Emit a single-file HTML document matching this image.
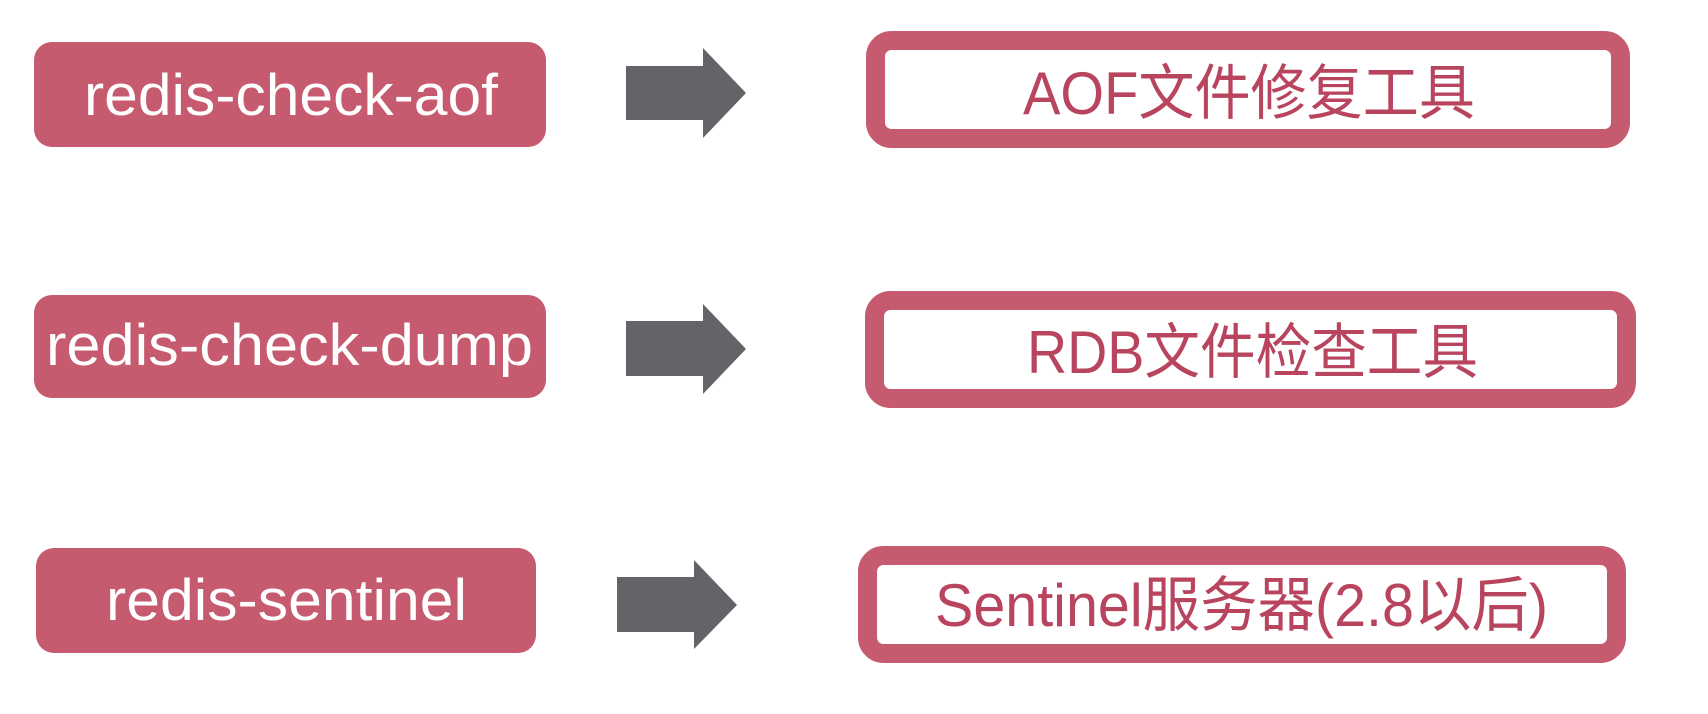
<!DOCTYPE html>
<html><head><meta charset="utf-8"><style>html,body{margin:0;padding:0;background:#fff}svg{display:block}</style></head>
<body>
<svg width="1708" height="714" viewBox="0 0 1708 714" xmlns="http://www.w3.org/2000/svg">
<g fill="#c65a6e">
<rect x="34" y="42" width="512" height="105" rx="18"/>
<rect x="34" y="295" width="512" height="103" rx="18"/>
<rect x="36" y="548" width="500" height="105" rx="18"/>
</g>
<g fill="#fff" stroke="#c65a6e" stroke-width="19">
<rect x="875.5" y="40.5" width="745" height="98" rx="16"/>
<rect x="874.5" y="300.5" width="752" height="98" rx="16"/>
<rect x="867.5" y="555.5" width="749" height="98" rx="16"/>
</g>
<g fill="#636468">
<polygon points="626,66 703,66 703,48 746,93 703,138 703,120 626,120"/>
<polygon points="626,321 703,321 703,304 746,349 703,394 703,376 626,376"/>
<polygon points="617,577 694,577 694,560 737,605 694,649 694,632 617,632"/>
</g>
<g font-family="Liberation Sans, sans-serif" font-size="58" fill="#fff">
<text x="84" y="115" textLength="414" lengthAdjust="spacingAndGlyphs">redis-check-aof</text>
<text x="46" y="365" textLength="487" lengthAdjust="spacingAndGlyphs">redis-check-dump</text>
<text x="106" y="620" textLength="361" lengthAdjust="spacingAndGlyphs">redis-sentinel</text>
</g>
<g font-family="Liberation Sans, 'Noto Sans CJK SC', sans-serif" font-size="60" fill="#b8445e">
<text x="1023" y="114" textLength="452" lengthAdjust="spacingAndGlyphs">AOF文件修复工具</text>
<text x="1027" y="373" textLength="451" lengthAdjust="spacingAndGlyphs">RDB文件检查工具</text>
<text x="935" y="626" textLength="613" lengthAdjust="spacingAndGlyphs">Sentinel服务器(2.8以后)</text>
</g>
</svg>
</body></html>
